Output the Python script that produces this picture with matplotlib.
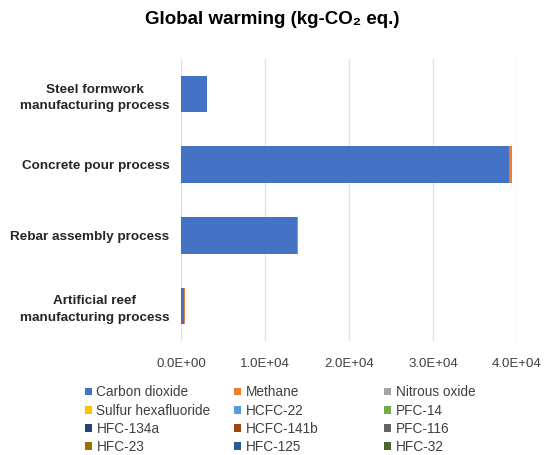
import matplotlib.pyplot as plt
import numpy as np

plt.rcParams['font.family'] = ['Liberation Sans', 'DejaVu Sans']

categories = ['Steel formwork\nmanufacturing process', 'Concrete pour process',
              'Rebar assembly process', 'Artificial reef\nmanufacturing process']

gases = ['Carbon dioxide', 'Methane', 'Nitrous oxide',
         'Sulfur hexafluoride', 'HCFC-22', 'PFC-14',
         'HFC-134a', 'HCFC-141b', 'PFC-116',
         'HFC-23', 'HFC-125', 'HFC-32']

colors = ['#4472C4', '#ED7D31', '#A5A5A5',
          '#FFC000', '#5B9BD5', '#70AD47',
          '#264478', '#9E480E', '#636363',
          '#997300', '#255E91', '#43682B']

# values per gas, in category order (kg-CO2 eq.)
carbon_dioxide = [3080, 39050, 13780, 280]
methane = [40, 330, 120, 150]
nitrous_oxide = [10, 90, 30, 5]
sulfur_hexafluoride = [1, 5, 2, 0.5]
hcfc_22 = [0.5, 2, 1, 0.2]
pfc_14 = [0.5, 2, 1, 0.2]
hfc_134a = [0.5, 2, 1, 0.2]
hcfc_141b = [0.5, 2, 1, 0.2]
pfc_116 = [0.2, 1, 0.5, 0.1]
hfc_23 = [0.2, 1, 0.5, 0.1]
hfc_125 = [0.2, 1, 0.5, 0.1]
hfc_32 = [0.2, 1, 0.5, 0.1]

series = [carbon_dioxide, methane, nitrous_oxide, sulfur_hexafluoride, hcfc_22, pfc_14,
          hfc_134a, hcfc_141b, pfc_116, hfc_23, hfc_125, hfc_32]

fig = plt.figure(figsize=(5.44, 4.55), dpi=100)
ax = fig.add_axes([0.333, 0.250, 0.617, 0.621])

y = np.arange(len(categories))
left = np.zeros(len(categories))
handles = []
for name, vals, c in zip(gases, series, colors):
    h = ax.barh(y, vals, left=left, height=0.52, color=c, label=name)
    handles.append(h)
    left += np.array(vals)

ax.set_ylim(len(categories) - 0.5, -0.5)
ax.set_xlim(0, 40000)
ax.set_xticks([0, 10000, 20000, 30000, 40000])
ax.set_xticklabels(['0.0E+00', '1.0E+04', '2.0E+04', '3.0E+04', '4.0E+04'],
                   fontsize=9.5, color='#404040')
ax.set_yticks(y)
ax.set_yticklabels(categories, fontsize=9.7, fontweight='bold', color='#262626',
                   linespacing=1.5, multialignment='center')
ax.tick_params(axis='x', length=0, pad=12)
ax.tick_params(axis='y', length=0, pad=8.5)
for s in ax.spines.values():
    s.set_visible(False)
ax.grid(axis='x', color='#E3E3E3', linewidth=1)
ax.set_axisbelow(True)

fig.text(0.5, 0.957, 'Global warming (kg-CO\u2082 eq.)', ha='center', va='center',
         fontsize=13.5, fontweight='bold', color='black')

# one legend per column so the columns sit where the original has them
col_x = [0.156, 0.431, 0.706]
for c, x0 in enumerate(col_x):
    idx = [r * 3 + c for r in range(4)]
    leg = fig.legend([handles[i] for i in idx], [gases[i] for i in idx],
                     loc='upper left', bbox_to_anchor=(x0, 0.153),
                     frameon=False, fontsize=9.8, handlelength=0.5, handleheight=0.5,
                     handletextpad=0.35, labelspacing=0.31,
                     borderpad=0, borderaxespad=0, labelcolor='#404040')

fig.savefig('out.png', dpi=100)
